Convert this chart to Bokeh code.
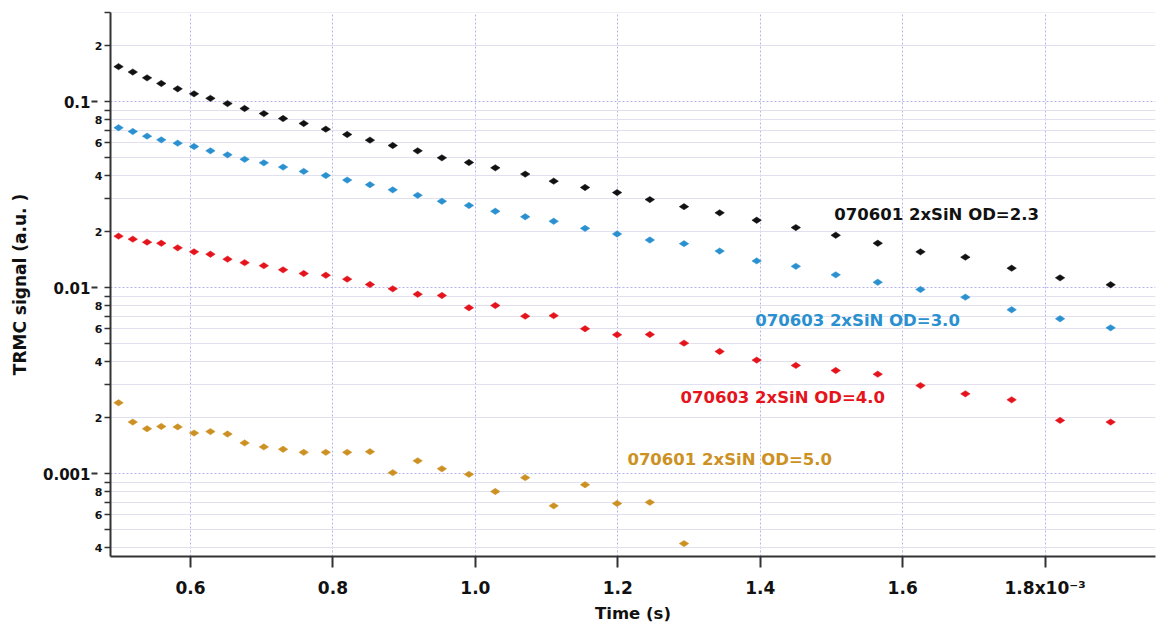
import math
from bokeh.plotting import figure
from bokeh.models import FixedTicker, Range1d, Label, LogAxis
from bokeh.embed import file_html
from bokeh.resources import INLINE

# ---- data (time in units of 1e-3 s) ----
time_ms = [0.499, 0.519, 0.539, 0.559, 0.582, 0.605, 0.628, 0.652, 0.676, 0.703,
           0.730, 0.759, 0.790, 0.820, 0.852, 0.884, 0.919, 0.953, 0.991, 1.028,
           1.070, 1.110, 1.154, 1.199, 1.245, 1.293, 1.343, 1.395, 1.450, 1.506,
           1.565, 1.625, 1.688, 1.753, 1.821, 1.892]

od23 = [0.154, 0.144, 0.134, 0.125, 0.117, 0.110, 0.104, 0.0975, 0.0917, 0.0861,
        0.0810, 0.0762, 0.0710, 0.0665, 0.0620, 0.0580, 0.0543, 0.0498, 0.0470, 0.0440,
        0.0407, 0.0373, 0.0345, 0.0324, 0.0297, 0.0272, 0.0252, 0.0230, 0.0210, 0.0191,
        0.0173, 0.01555, 0.01456, 0.01270, 0.01127, 0.01035]

od30 = [0.0723, 0.0690, 0.0651, 0.0622, 0.0597, 0.0573, 0.0543, 0.0517, 0.0489, 0.0468,
        0.0444, 0.0421, 0.0400, 0.0378, 0.0357, 0.0335, 0.0313, 0.0291, 0.0276, 0.0257,
        0.0240, 0.0227, 0.0208, 0.0194, 0.0180, 0.0172, 0.0157, 0.0139, 0.0130, 0.0117,
        0.01067, 0.00976, 0.00887, 0.00759, 0.00679, 0.00607]

od40 = [0.01888, 0.0182, 0.01753, 0.0173, 0.01634, 0.01555, 0.0151, 0.0142, 0.0136, 0.0131,
        0.01245, 0.01189, 0.01164, 0.01109, 0.01038, 0.00984, 0.00920, 0.00906, 0.00778, 0.00800,
        0.00701, 0.00706, 0.00600, 0.00557, 0.00559, 0.00502, 0.00453, 0.00407, 0.00381, 0.00358,
        0.00342, 0.00297, 0.00268, 0.00249, 0.00193, 0.00189]

od50 = [0.00240, 0.00189, 0.00174, 0.00179, 0.00178, 0.00165, 0.00168, 0.00163, 0.00146, 0.00139,
        0.00135, 0.00130, 0.00130, 0.00130, 0.00131, 0.00101, 0.00117, 0.00106, 0.00099, 0.00080,
        0.00095, 0.00067, 0.00087, 0.00069, 0.00070, 0.00042]

series_names = ["070601 2xSiN OD=2.3", "070603 2xSiN OD=3.0",
                "070603 2xSiN OD=4.0", "070601 2xSiN OD=5.0"]
series_colors = ["#111111", "#2a90d0", "#e5141c", "#cd9123"]

x_ticks = [0.6, 0.8, 1.0, 1.2, 1.4, 1.6, 1.8]
x_tick_labels = ["0.6", "0.8", "1.0", "1.2", "1.4", "1.6", "1.8x10\u207b\u00b3"]

y_decade_ticks = [0.001, 0.01, 0.1]
y_decade_labels = ["0.001", "0.01", "0.1"]
y_digit_ticks = [0.0004, 0.0006, 0.0008, 0.002, 0.004, 0.006, 0.008,
                 0.02, 0.04, 0.06, 0.08, 0.2]
y_digit_labels = ["4", "6", "8", "2", "4", "6", "8", "2", "4", "6", "8", "2"]
y_other_ticks = [0.0005, 0.0007, 0.0009, 0.003, 0.005, 0.007, 0.009,
                 0.03, 0.05, 0.07, 0.09, 0.3]

# annotation anchor positions (left edge, vertical middle) in data units
label_x = [1.504, 1.393, 1.288, 1.2135]
label_y = [0.02455, 0.00665, 0.00256, 0.00119]

x_start, x_end = 0.4877, 1.955
y_start, y_end = 3.579e-4, 0.301

FONT = "DejaVu Sans"
AXC = "#333333"
TXC = "#111111"

p = figure(width=1158, height=625, y_axis_type="log",
           x_range=Range1d(x_start, x_end), y_range=Range1d(y_start, y_end),
           output_backend="svg", toolbar_location=None,
           min_border_left=110, min_border_right=3,
           min_border_top=12, min_border_bottom=69)
p.outline_line_color = None
p.background_fill_color = "white"
p.border_fill_color = "white"

# ---- x axis ----
xt = FixedTicker(ticks=x_ticks)
xa = p.xaxis[0]
xa.ticker = xt
p.xgrid.ticker = xt
xa.major_label_overrides = dict(zip(x_ticks, x_tick_labels))
xa.axis_label = "Time (s)"
xa.axis_line_color = AXC
xa.axis_line_width = 2
xa.major_tick_line_color = AXC
xa.major_tick_line_width = 2
xa.major_tick_in = 0
xa.major_tick_out = 11
xa.minor_tick_out = 0
xa.minor_tick_in = 0
xa.major_label_text_font = FONT
xa.major_label_text_font_style = "bold"
xa.major_label_text_font_size = "17px"
xa.major_label_text_color = TXC
xa.major_label_standoff = 10
xa.axis_label_text_font = FONT
xa.axis_label_text_font_style = "bold"
xa.axis_label_text_font_size = "16.5px"
xa.axis_label_text_color = TXC
xa.axis_label_standoff = 3

# ---- y axis: inner (ticks + small digit labels) ----
ya = p.yaxis[0]
ya.ticker = FixedTicker(ticks=y_decade_ticks + y_digit_ticks, minor_ticks=y_other_ticks)
ya.major_label_overrides = dict(list(zip(y_decade_ticks, [""] * len(y_decade_ticks)))
                                + list(zip(y_digit_ticks, y_digit_labels)))
ya.axis_line_color = AXC
ya.axis_line_width = 2
ya.major_tick_line_color = AXC
ya.major_tick_line_width = 1.5
ya.minor_tick_line_color = AXC
ya.minor_tick_line_width = 1.5
ya.major_tick_in = 0
ya.minor_tick_in = 0
ya.major_tick_out = 6
ya.minor_tick_out = 6
ya.major_label_text_font = FONT
ya.major_label_text_font_style = "bold"
ya.major_label_text_font_size = "11px"
ya.major_label_text_color = TXC
ya.major_label_standoff = 2

# ---- y axis: outer (decade labels + title) ----
yb = LogAxis(ticker=FixedTicker(ticks=y_decade_ticks))
yb.major_label_overrides = dict(zip(y_decade_ticks, y_decade_labels))
yb.axis_line_color = None
yb.major_tick_line_color = AXC
yb.major_tick_line_width = 2
yb.major_tick_in = 6
yb.major_tick_out = 0
yb.minor_tick_line_color = None
yb.major_label_standoff = 1
yb.major_label_text_font = FONT
yb.major_label_text_font_style = "bold"
yb.major_label_text_font_size = "15px"
yb.major_label_text_color = TXC
yb.axis_label = "TRMC signal (a.u. )"
yb.axis_label_text_font = FONT
yb.axis_label_text_font_style = "bold"
yb.axis_label_text_font_size = "17px"
yb.axis_label_text_color = TXC
yb.axis_label_standoff = 10
p.add_layout(yb, "left")

# ---- grids ----
yg_ticker = FixedTicker(ticks=y_decade_ticks, minor_ticks=y_digit_ticks + y_other_ticks)
p.ygrid.ticker = yg_ticker
p.xgrid.grid_line_color = "#b4b4ec"
p.xgrid.grid_line_dash = "2 2"
p.xgrid.grid_line_width = 1
p.ygrid.grid_line_color = "#b4b4ec"
p.ygrid.grid_line_dash = "2 2"
p.ygrid.grid_line_width = 1
p.ygrid.minor_grid_line_color = "#e0e0ee"
p.ygrid.minor_grid_line_width = 1

# ---- data points ----
all_y = [od23, od30, od40, od50]
for ys, col in zip(all_y, series_colors):
    xs = time_ms[:len(ys)]
    p.scatter(xs, ys, marker="diamond", size=9.5, angle=math.pi / 2,
              fill_color=col, line_color=col, line_width=0.5)

# ---- annotations ----
for name, col, lx, ly in zip(series_names, series_colors, label_x, label_y):
    p.add_layout(Label(x=lx, y=ly, text=name, text_color=col,
                       text_font=FONT, text_font_style="bold",
                       text_font_size="16.5px", text_align="left",
                       text_baseline="middle"))

open("out.html", "w").write(file_html(p, INLINE))
